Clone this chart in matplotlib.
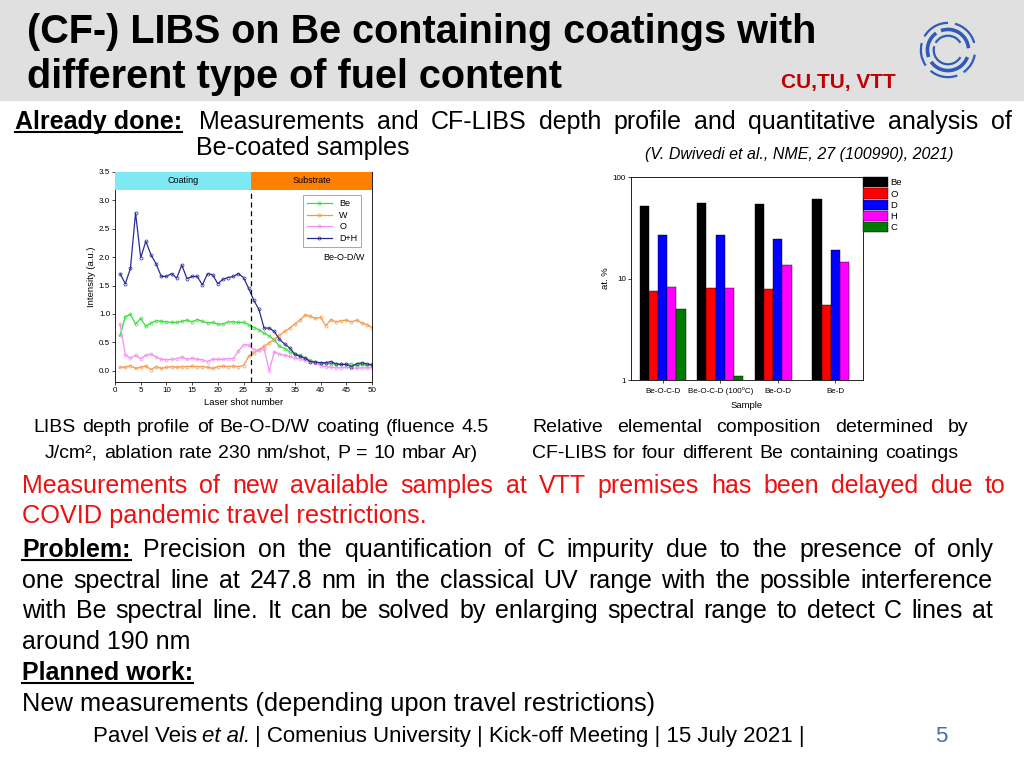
import numpy as np
import matplotlib
matplotlib.use('Agg')
import matplotlib.pyplot as plt
from matplotlib import font_manager
from matplotlib.lines import Line2D
from matplotlib.patches import Rectangle, Arc
from matplotlib.ticker import FuncFormatter, NullLocator

names = {f.name for f in font_manager.fontManager.ttflist}
NARROW = 'Liberation Sans Narrow' if 'Liberation Sans Narrow' in names else 'Liberation Sans'
plt.rcParams['font.family'] = ['Liberation Sans', 'DejaVu Sans']

# ---- left chart: LIBS depth profile of Be-O-D/W coating
shots = np.arange(1, 51)
be = [0.62, 0.95, 0.99, 0.82, 0.92, 0.78, 0.84, 0.88, 0.87, 0.86,
      0.85, 0.85, 0.87, 0.89, 0.86, 0.90, 0.87, 0.84, 0.85, 0.82,
      0.82, 0.86, 0.86, 0.85, 0.85, 0.81, 0.76, 0.72, 0.66, 0.61,
      0.54, 0.43, 0.39, 0.33, 0.29, 0.27, 0.22, 0.18, 0.15, 0.13,
      0.13, 0.12, 0.12, 0.11, 0.11, 0.12, 0.09, 0.11, 0.09, 0.12]
w = [0.06, 0.06, 0.09, 0.04, 0.06, 0.08, 0.02, 0.07, 0.04, 0.06,
     0.07, 0.06, 0.07, 0.07, 0.08, 0.07, 0.07, 0.06, 0.04, 0.07,
     0.08, 0.07, 0.08, 0.07, 0.09, 0.25, 0.31, 0.37, 0.43, 0.49,
     0.55, 0.62, 0.69, 0.75, 0.82, 0.89, 0.98, 0.96, 0.92, 0.94,
     0.79, 0.90, 0.86, 0.88, 0.89, 0.86, 0.89, 0.84, 0.81, 0.76]
o = [0.82, 0.28, 0.22, 0.27, 0.21, 0.27, 0.29, 0.24, 0.20, 0.19,
     0.20, 0.21, 0.24, 0.20, 0.22, 0.20, 0.19, 0.16, 0.20, 0.20,
     0.20, 0.21, 0.21, 0.34, 0.46, 0.45, 0.37, 0.36, 0.39, 0.00,
     0.33, 0.29, 0.27, 0.25, 0.22, 0.21, 0.18, 0.15, 0.13, 0.09,
     0.07, 0.06, 0.05, 0.05, 0.06, 0.05, 0.04, 0.05, 0.05, 0.05]
dh = [1.71, 1.53, 1.80, 2.78, 1.99, 2.28, 2.04, 1.88, 1.66, 1.66,
      1.71, 1.63, 1.86, 1.62, 1.66, 1.66, 1.51, 1.71, 1.69, 1.53,
      1.61, 1.64, 1.66, 1.71, 1.64, 1.45, 1.24, 1.08, 0.75, 0.75,
      0.69, 0.55, 0.47, 0.40, 0.29, 0.25, 0.22, 0.16, 0.15, 0.14,
      0.14, 0.16, 0.12, 0.11, 0.11, 0.07, 0.12, 0.14, 0.12, 0.10]
interface_shot = 26.5

# ---- right chart: CF-LIBS composition (at. %)
samples = ['Be-O-C-D', 'Be-O-C-D (100\u2070C)', 'Be-O-D', 'Be-D']
be_pct = [52, 55, 54, 60.5]
o_pct = [7.6, 8.1, 7.9, 5.5]
d_pct = [26.8, 27, 24.4, 18.9]
h_pct = [8.3, 8.1, 13.6, 14.6]
c_pct = [5.0, 1.1, np.nan, np.nan]

W, H = 1024, 768
fig = plt.figure(figsize=(W / 100, H / 100), dpi=100)
rend = fig.canvas.get_renderer()

fig.add_artist(Rectangle((0, 1 - 101 / H), 1, 101 / H, transform=fig.transFigure,
                         facecolor='#e0e0e0', edgecolor='none', zorder=0))


def put(x, y, s, **kw):
    kw.setdefault('family', [NARROW, 'DejaVu Sans'])
    return fig.text(x / W, 1 - y / H, s, va='baseline', **kw)


def wid(t):
    return t.get_window_extent(rend).width


def justify(x0, x1, y, line, **kw):
    words = line.split()
    ts = [put(x0, y, s, **kw) for s in words]
    ws = [wid(t) for t in ts]
    gap = (x1 - x0 - sum(ws)) / (len(words) - 1)
    x = x0
    for t, ww in zip(ts, ws):
        t.set_x(x / W)
        x += ww + gap


def underline(t, y, lw=1.5):
    bb = t.get_window_extent(rend)
    yy = 1 - (y + 3) / H
    fig.add_artist(Line2D([bb.x0 / W, bb.x1 / W], [yy, yy], color='k', lw=lw))


# title
put(27, 43, '(CF-) LIBS on Be containing coatings with', fontsize=28.5, weight='bold')
put(27, 88, 'different type of fuel content', fontsize=28.5, weight='bold')
put(781, 88, 'CU,TU, VTT', fontsize=15, weight='bold', color='#c00000')

# logo
lax = fig.add_axes([918 / W, 1 - 80 / H, 60 / W, 60 / H])
lax.set_xlim(-1.05, 1.05)
lax.set_ylim(-1.05, 1.05)
lax.axis('off')
ring_segs = [(0.95, 1.6, [(15, 75), (90, 150), (165, 215), (230, 290), (305, 350)]),
             (0.72, 2.6, [(5, 110), (125, 200), (215, 340)]),
             (0.50, 1.6, [(30, 150), (165, 330)])]
for rad, lw, segs in ring_segs:
    for a0, a1 in segs:
        lax.add_patch(Arc((0, 0), 2 * rad, 2 * rad, theta1=a0, theta2=a1,
                          color='#2f5bb7', lw=lw))

# already done
t = put(15, 129, 'Already done:', fontsize=18, weight='bold')
underline(t, 129)
justify(199, 1012, 129, 'Measurements and CF-LIBS depth profile and quantitative analysis of', fontsize=18)
put(196, 155, 'Be-coated samples', fontsize=18)
put(645, 159, '(V. Dwivedi et al., NME, 27 (100990), 2021)', fontsize=11.5, style='italic')

# ---- left chart
ax1 = fig.add_axes([115 / W, 1 - 382 / H, 257 / W, 210 / H])
series = [(be, 'Be', '#3ddc3d'), (w, 'W', '#f39a4c'), (o, 'O', '#f28ef2'), (dh, 'D+H', '#2b2b95')]
for vals, lab, col in series:
    ax1.plot(shots, vals, color=col, lw=0.9, marker='o', ms=2.2, mfc='none', mew=0.5, label=lab)
ax1.set_xlim(0, 50)
ax1.set_ylim(-0.2, 3.5)
ax1.set_xticks(range(0, 51, 5))
ax1.set_yticks(np.arange(0, 3.6, 0.5))
ax1.yaxis.set_major_formatter('{x:.1f}')
ax1.tick_params(labelsize=5.8, length=2, width=0.5, pad=1.5)
band_lo = 3.19
ax1.plot([interface_shot, interface_shot], [-0.2, band_lo], color='k', ls=(0, (4, 3)), lw=0.9)
ax1.add_patch(Rectangle((0, band_lo), interface_shot, 3.5 - band_lo,
                        facecolor='#7fe9f3', edgecolor='none', zorder=3))
ax1.add_patch(Rectangle((interface_shot, band_lo), 50 - interface_shot, 3.5 - band_lo,
                        facecolor='#ff8000', edgecolor='none', zorder=3))
ax1.text(interface_shot / 2, (band_lo + 3.5) / 2, 'Coating', ha='center', va='center',
         fontsize=6.5, zorder=4)
ax1.text((interface_shot + 50) / 2, (band_lo + 3.5) / 2, 'Substrate', ha='center',
         va='center', fontsize=6.5, zorder=4)
ax1.text(48.5, 2.0, 'Be-O-D/W', ha='right', va='center', fontsize=6.5)
leg = ax1.legend(loc='upper right', bbox_to_anchor=(0.975, 0.91), fontsize=6.5, fancybox=False,
                 edgecolor='#999999', handlelength=2.8, borderpad=0.4, labelspacing=0.3,
                 framealpha=1)
leg.get_frame().set_linewidth(0.6)
ax1.set_xlabel('Laser shot number', fontsize=6.8, labelpad=3)
ax1.set_ylabel('Intensity (a.u.)', fontsize=6.8, labelpad=2)
for s in ax1.spines.values():
    s.set_linewidth(0.6)

# ---- right chart
ax2 = fig.add_axes([631 / W, 1 - 380 / H, 232 / W, 203 / H])
xpos = np.arange(len(samples))
bw = 0.16
bars = [(be_pct, 'Be', '#000000'), (o_pct, 'O', '#ff0000'), (d_pct, 'D', '#0000ff'),
        (h_pct, 'H', '#ff00ff'), (c_pct, 'C', '#007a00')]
for k, (vals, lab, col) in enumerate(bars):
    ax2.bar(xpos + (k - 2) * bw, vals, bw, color=col, edgecolor='k', lw=0.3, label=lab)
ax2.set_yscale('log')
ax2.set_ylim(1, 100)
ax2.set_xlim(-0.55, 3.48)
ax2.yaxis.set_major_formatter(FuncFormatter(lambda v, p: f'{v:g}'))
ax2.yaxis.set_minor_locator(NullLocator())
ax2.set_xticks(xpos)
ax2.set_xticklabels(samples)
ax2.tick_params(labelsize=5.8, length=2, width=0.5, pad=1.5)
ax2.tick_params(axis='x', pad=7)
for lbl in ax2.get_xticklabels():
    lbl.set_va('baseline')
ax2.set_xlabel('Sample', fontsize=6.8, labelpad=5)
ax2.set_ylabel('at. %', fontsize=6.8, labelpad=2)
ax2.legend(loc='upper left', bbox_to_anchor=(1.0, 1.0), fontsize=6.8, frameon=False,
           handlelength=2.6, handleheight=1.3, borderaxespad=0, labelspacing=0.1,
           handletextpad=0.3, borderpad=0)
for s in ax2.spines.values():
    s.set_linewidth(0.6)

# captions
justify(33, 489, 432, 'LIBS depth profile of Be-O-D/W coating (fluence 4.5', fontsize=14)
justify(45, 478, 458, 'J/cm², ablation rate 230 nm/shot, P = 10 mbar Ar)', fontsize=14)
justify(532, 968, 432, 'Relative elemental composition determined by', fontsize=14)
justify(532, 958, 458, 'CF-LIBS for four different Be containing coatings', fontsize=14)

# red note
red = '#ee1111'
justify(22, 1005, 493, 'Measurements of new available samples at VTT premises has been delayed due to',
        fontsize=18, color=red)
put(22, 523, 'COVID pandemic travel restrictions.', fontsize=18.3, color=red)

# problem
t = put(22, 557, 'Problem:', fontsize=18, weight='bold')
underline(t, 557)
justify(143, 993, 557, 'Precision on the quantification of C impurity due to the presence of only', fontsize=18)
justify(22, 993, 588, 'one spectral line at 247.8 nm in the classical UV range with the possible interference',
        fontsize=18)
justify(22, 993, 618, 'with Be spectral line. It can be solved by enlarging spectral range to detect C lines at',
        fontsize=18)
put(22, 649, 'around 190 nm', fontsize=18)
t = put(22, 680, 'Planned work:', fontsize=18, weight='bold')
underline(t, 680)
put(22, 711, 'New measurements (depending upon travel restrictions)', fontsize=18.3)

# footer
x = 93
for txt, kw in [('Pavel Veis ', {}), ('et al.', {'style': 'italic'}),
                (' | Comenius University | Kick-off Meeting | 15 July 2021 |', {})]:
    t = put(x, 742, txt.strip(), fontsize=16, **kw)
    x += wid(t) + (5 if txt.endswith(' ') or txt == 'et al.' else 0)
put(935, 742, '5', fontsize=16, color='#4a6aa8')

fig.savefig('out.png', dpi=100)
